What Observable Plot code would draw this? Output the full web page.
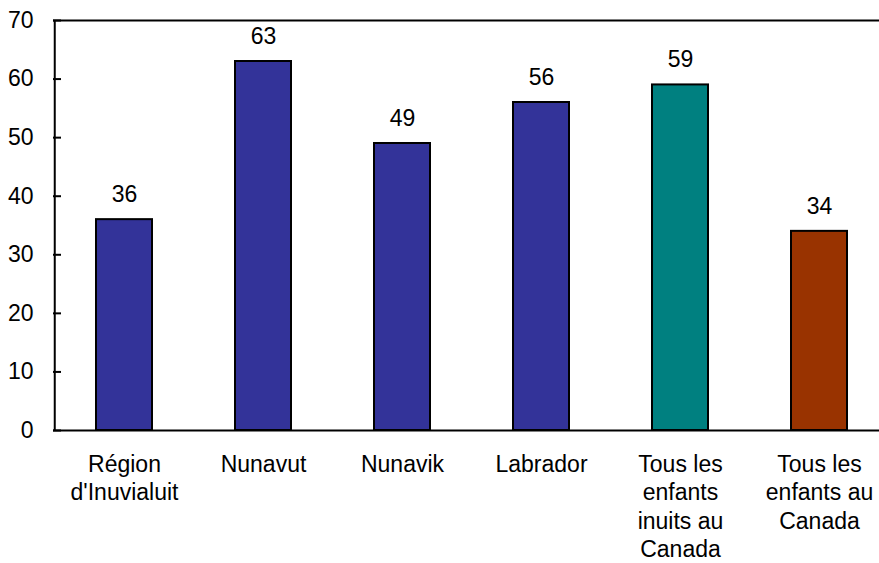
<!DOCTYPE html>
<html>
<head>
<meta charset="utf-8">
<script src="https://cdn.jsdelivr.net/npm/d3@7"></script>
<script src="https://cdn.jsdelivr.net/npm/@observablehq/plot@0.6"></script>
<style>
  html, body { margin: 0; padding: 0; background: #fff; }
  svg { font-family: "Liberation Sans", Arial, sans-serif; }
</style>
</head>
<body>
<div id="chart"></div>
<script>
const categories = ["Région\nd'Inuvialuit", "Nunavut", "Nunavik", "Labrador", "Tous les\nenfants\ninuits au\nCanada", "Tous les\nenfants au\nCanada"];
const values = [36, 63, 49, 56, 59, 34];
const colors = ["#333399", "#333399", "#333399", "#333399", "#008080", "#993300"];
const yTicks = [0, 10, 20, 30, 40, 50, 60, 70];

const data = categories.map((c, i) => ({cat: c, value: values[i], color: colors[i]}));

const chart = Plot.plot({
  width: 879,
  height: 563,
  marginTop: 20,
  marginBottom: 133,
  marginLeft: 53,
  marginRight: 0,
  style: {fontFamily: "'Liberation Sans', Arial, sans-serif", fontSize: "23px", color: "#000", background: "#fff"},
  x: {domain: categories, range: [53, 890], paddingInner: 0.6, paddingOuter: 0.3, label: null},
  y: {domain: [0, 70], label: null},
  marks: [
    Plot.barY(data, {x: "cat", y: "value", fill: "color", stroke: "#000", strokeWidth: 2}),
    Plot.text(data, {x: "cat", y: "value", text: d => String(d.value), dy: -25, fontSize: 23, fill: "#000"}),
    Plot.ruleY([0, 70], {stroke: "#000", strokeWidth: 2}),
    Plot.ruleX([categories[0]], {stroke: "#000", strokeWidth: 2, dx: -69.75, y1: 0, y2: 70}),
    Plot.axisY({ticks: yTicks, tickSize: -8, tickPadding: 28, fontSize: 23, strokeWidth: 2, label: null}),
    Plot.axisX({tickSize: 0, tickPadding: 21, fontSize: 23, lineHeight: 1.24, label: null})
  ]
});
document.getElementById("chart").appendChild(chart);
</script>
</body>
</html>
